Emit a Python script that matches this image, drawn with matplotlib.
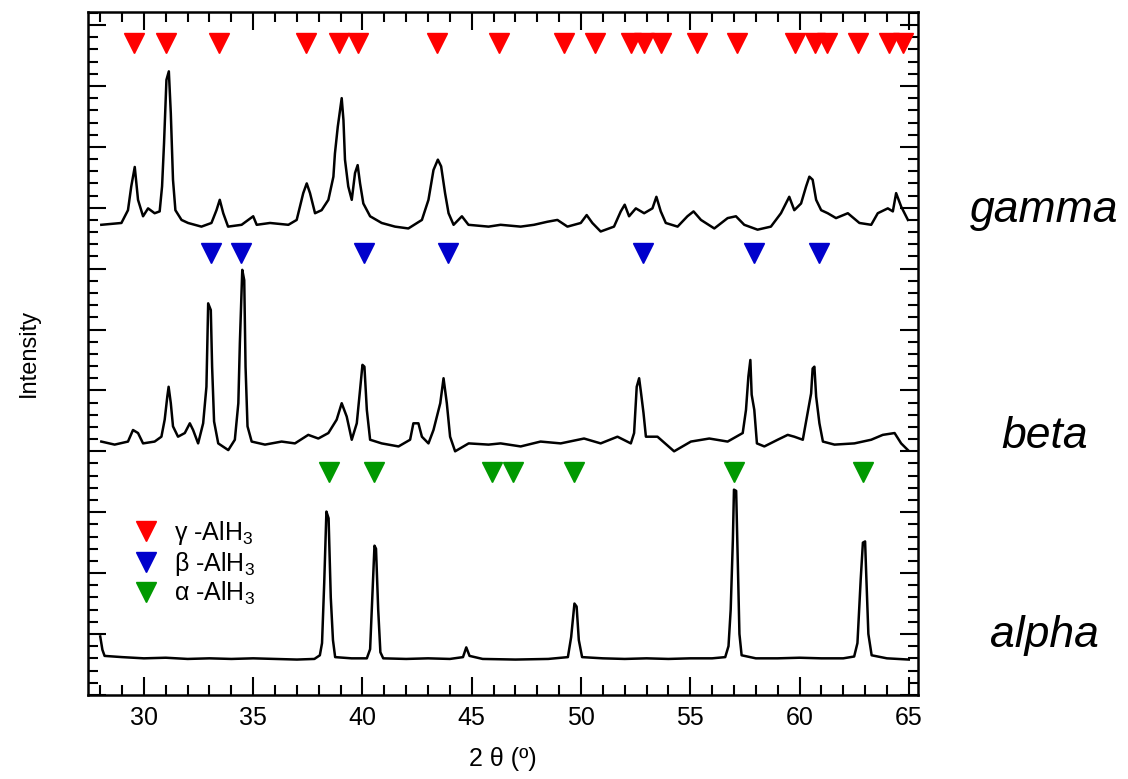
"""
XRD patterns of the three AlH3 polymorphs (gamma, beta, alpha), stacked,
with the reference reflections marked by coloured triangles.
"""
import matplotlib
matplotlib.use("Agg")
import matplotlib.pyplot as plt
from matplotlib.lines import Line2D
from matplotlib.ticker import MultipleLocator

plt.rcParams["font.family"] = ["Liberation Sans", "DejaVu Sans"]
plt.rcParams["mathtext.fontset"] = "custom"
plt.rcParams["mathtext.rm"] = "Liberation Sans"

# --- measured patterns (2theta in deg, intensity in stacked arbitrary units) ---
GAMMA_2THETA = [28.05, 28.97, 29.27, 29.42, 29.58, 29.73, 29.96, 30.19, 30.49, 30.72,
                30.83, 30.92, 31.03, 31.14, 31.23, 31.33, 31.44, 31.72, 32.02, 32.63,
                33.09, 33.32, 33.47, 33.63, 33.85, 34.47, 35.00, 35.16, 35.77, 36.61,
                36.99, 37.29, 37.45, 37.60, 37.83, 38.13, 38.44, 38.67, 38.74, 38.87,
                39.05, 39.13, 39.20, 39.35, 39.51, 39.66, 39.78, 39.89, 40.04, 40.35,
                40.88, 41.49, 42.10, 42.72, 43.02, 43.25, 43.45, 43.60, 43.78, 43.94,
                44.17, 44.55, 44.85, 45.77, 46.32, 47.24, 47.85, 48.46, 48.92, 49.38,
                49.99, 50.26, 50.52, 50.90, 51.51, 51.82, 52.00, 52.20, 52.51, 52.89,
                53.27, 53.45, 53.65, 53.88, 54.42, 54.87, 55.15, 55.49, 56.10, 56.71,
                57.09, 57.47, 58.08, 58.69, 59.15, 59.53, 59.76, 60.07, 60.30, 60.45,
                60.60, 60.76, 60.99, 61.29, 61.67, 62.21, 62.74, 63.28, 63.58, 64.04,
                64.27, 64.42, 64.65, 64.96]
GAMMA_I = [7.72, 7.75, 7.96, 8.35, 8.67, 8.13, 7.86, 7.99, 7.91, 7.94,
           8.35, 9.06, 10.10, 10.24, 9.55, 8.46, 7.96, 7.80, 7.75, 7.69,
           7.75, 7.96, 8.13, 7.91, 7.69, 7.72, 7.86, 7.72, 7.75, 7.72,
           7.80, 8.24, 8.40, 8.24, 7.91, 7.96, 8.13, 8.51, 8.89, 9.33,
           9.80, 9.44, 8.79, 8.35, 8.13, 8.57, 8.70, 8.40, 8.07, 7.86,
           7.75, 7.69, 7.66, 7.80, 8.13, 8.62, 8.79, 8.68, 8.24, 7.91,
           7.72, 7.86, 7.72, 7.69, 7.72, 7.69, 7.72, 7.77, 7.80, 7.69,
           7.75, 7.88, 7.75, 7.61, 7.69, 7.94, 8.05, 7.86, 7.99, 7.91,
           7.99, 8.18, 7.94, 7.75, 7.69, 7.86, 7.94, 7.80, 7.66, 7.83,
           7.86, 7.72, 7.64, 7.69, 7.91, 8.18, 7.96, 8.07, 8.35, 8.51,
           8.46, 8.13, 7.96, 7.91, 7.83, 7.91, 7.75, 7.72, 7.91, 7.99,
           7.94, 8.24, 8.02, 7.80]

BETA_2THETA = [28.05, 28.66, 29.27, 29.50, 29.73, 29.96, 30.49, 30.80, 30.95, 31.07,
               31.13, 31.23, 31.33, 31.56, 31.87, 32.10, 32.25, 32.48, 32.71, 32.86,
               32.94, 33.06, 33.12, 33.21, 33.40, 33.86, 34.16, 34.32, 34.39, 34.50,
               34.59, 34.65, 34.74, 34.93, 35.54, 36.30, 36.91, 37.52, 37.98, 38.44,
               38.82, 39.05, 39.28, 39.51, 39.74, 39.89, 40.00, 40.09, 40.20, 40.35,
               40.88, 41.65, 42.18, 42.33, 42.56, 42.72, 43.02, 43.25, 43.56, 43.71,
               43.86, 44.01, 44.24, 44.86, 45.77, 46.32, 47.24, 48.15, 49.07, 50.14,
               50.90, 51.67, 52.28, 52.43, 52.55, 52.66, 52.74, 52.86, 52.97, 53.50,
               54.26, 55.03, 55.87, 56.71, 57.40, 57.55, 57.66, 57.75, 57.81, 57.93,
               58.05, 58.39, 59.00, 59.46, 59.76, 60.15, 60.37, 60.53, 60.60, 60.68,
               60.76, 60.91, 61.07, 61.60, 62.51, 63.28, 63.81, 64.35, 64.65, 64.96]
BETA_I = [4.16, 4.11, 4.16, 4.35, 4.30, 4.13, 4.16, 4.24, 4.52, 4.90,
          5.06, 4.79, 4.41, 4.24, 4.30, 4.46, 4.35, 4.13, 4.46, 5.06,
          6.43, 6.32, 5.39, 4.49, 4.13, 4.02, 4.19, 4.79, 5.78, 6.98,
          6.81, 5.39, 4.41, 4.16, 4.11, 4.16, 4.13, 4.27, 4.21, 4.30,
          4.52, 4.79, 4.57, 4.19, 4.46, 5.01, 5.42, 5.39, 4.68, 4.19,
          4.13, 4.08, 4.19, 4.46, 4.46, 4.24, 4.13, 4.35, 4.79, 5.20,
          4.79, 4.24, 4.00, 4.13, 4.11, 4.13, 4.08, 4.16, 4.13, 4.21,
          4.13, 4.24, 4.13, 4.30, 5.06, 5.20, 4.98, 4.63, 4.24, 4.24,
          4.00, 4.16, 4.21, 4.16, 4.30, 4.68, 5.23, 5.50, 4.93, 4.68,
          4.13, 4.08, 4.19, 4.27, 4.24, 4.19, 4.63, 4.95, 5.36, 5.39,
          4.90, 4.46, 4.16, 4.11, 4.13, 4.19, 4.27, 4.30, 4.13, 4.02]

ALPHA_2THETA = [28.00, 28.10, 28.20, 29.00, 30.00, 31.00, 32.00, 33.00, 34.00, 35.00,
                36.00, 37.00, 37.80, 38.05, 38.15, 38.25, 38.35, 38.45, 38.55, 38.65,
                38.75, 39.50, 40.20, 40.35, 40.45, 40.55, 40.62, 40.72, 40.82, 40.95,
                42.00, 43.00, 44.00, 44.60, 44.75, 44.90, 45.50, 47.00, 48.50, 49.40,
                49.55, 49.70, 49.80, 49.90, 50.05, 51.00, 52.00, 53.00, 54.00, 55.00,
                56.00, 56.60, 56.75, 56.85, 56.95, 57.00, 57.10, 57.18, 57.25, 57.35,
                58.00, 59.00, 60.00, 61.00, 62.00, 62.50, 62.65, 62.80, 62.90, 63.00,
                63.05, 63.15, 63.30, 64.00, 65.00]
ALPHA_I = [0.96, 0.74, 0.64, 0.62, 0.60, 0.61, 0.59, 0.60, 0.59, 0.60,
           0.59, 0.58, 0.59, 0.65, 0.85, 1.84, 3.01, 2.90, 1.60, 0.90,
           0.62, 0.60, 0.60, 0.75, 1.60, 2.45, 2.40, 1.40, 0.70, 0.60,
           0.59, 0.60, 0.59, 0.62, 0.78, 0.64, 0.59, 0.58, 0.59, 0.62,
           0.95, 1.50, 1.45, 0.90, 0.62, 0.60, 0.59, 0.60, 0.59, 0.60,
           0.60, 0.62, 0.80, 1.40, 2.55, 3.37, 3.35, 2.10, 1.00, 0.65,
           0.60, 0.60, 0.61, 0.60, 0.60, 0.63, 0.85, 1.90, 2.50, 2.52,
           2.00, 1.00, 0.65, 0.60, 0.58]

# --- reference reflections ---
GAMMA_REFL = [29.55, 31.01, 33.44, 37.43, 38.94, 39.81, 43.43, 46.23, 49.21, 50.63,
              52.28, 52.87, 53.65, 55.30, 57.13, 59.79, 60.71, 61.26, 62.68, 64.10, 64.74]
BETA_REFL = [33.06, 34.45, 40.05, 43.92, 52.86, 57.93, 60.88]
ALPHA_REFL = [38.45, 40.54, 45.95, 46.87, 49.67, 57.01, 62.92]
REFL_LEVEL = {"gamma": 10.71, "beta": 7.26, "alpha": 3.66}

SAMPLE_NAMES = ["gamma", "beta", "alpha"]
SAMPLE_LABEL_Y = [7.95, 4.25, 0.97]
PHASE_LABELS = ["γ -AlH$_3$", "β -AlH$_3$", "α -AlH$_3$"]

RED, BLUE, GREEN = "#ff0000", "#0000cc", "#009900"
FS = 18


def main():
    fig = plt.figure(figsize=(11.28, 7.79), dpi=100)
    ax = fig.add_axes([0.078, 0.108, 0.736, 0.877])

    for xs, ys in [(GAMMA_2THETA, GAMMA_I), (BETA_2THETA, BETA_I), (ALPHA_2THETA, ALPHA_I)]:
        ax.plot(xs, ys, color="black", lw=1.8)

    for refl, key, col in [(GAMMA_REFL, "gamma", RED), (BETA_REFL, "beta", BLUE),
                           (ALPHA_REFL, "alpha", GREEN)]:
        ax.plot(refl, [REFL_LEVEL[key]] * len(refl), ls="none", marker="v",
                ms=14, color=col, mec=col)

    ax.set_xlim(27.44, 65.43)
    ax.set_ylim(0, 11.22)
    ax.xaxis.set_major_locator(MultipleLocator(5))
    ax.xaxis.set_minor_locator(MultipleLocator(1))
    ax.yaxis.set_major_locator(MultipleLocator(1))
    ax.yaxis.set_minor_locator(MultipleLocator(0.2))
    ax.tick_params(which="both", direction="in", top=True, right=True, width=1.5)
    ax.tick_params(which="major", length=13, labelsize=FS, pad=8)
    ax.tick_params(which="minor", length=7)
    ax.tick_params(axis="y", labelleft=False)
    for s in ax.spines.values():
        s.set_linewidth(1.8)

    ax.set_xlabel("2 θ (º)", fontsize=FS, labelpad=12)
    ax.set_ylabel("Intensity", fontsize=FS - 1, labelpad=31)

    for name, y in zip(SAMPLE_NAMES, SAMPLE_LABEL_Y):
        ax.text(71.2, y, name, fontsize=32, style="italic", ha="center", va="center",
                clip_on=False)

    handles = [Line2D([], [], ls="none", marker="v", ms=14, color=c) for c in (RED, BLUE, GREEN)]
    ax.legend(handles, PHASE_LABELS, loc="upper left", bbox_to_anchor=(0.025, 0.29),
              frameon=False, fontsize=FS, handletextpad=0.5, labelspacing=0.1,
              handlelength=1.2)

    fig.savefig("out.png", dpi=100)


if __name__ == "__main__":
    main()
